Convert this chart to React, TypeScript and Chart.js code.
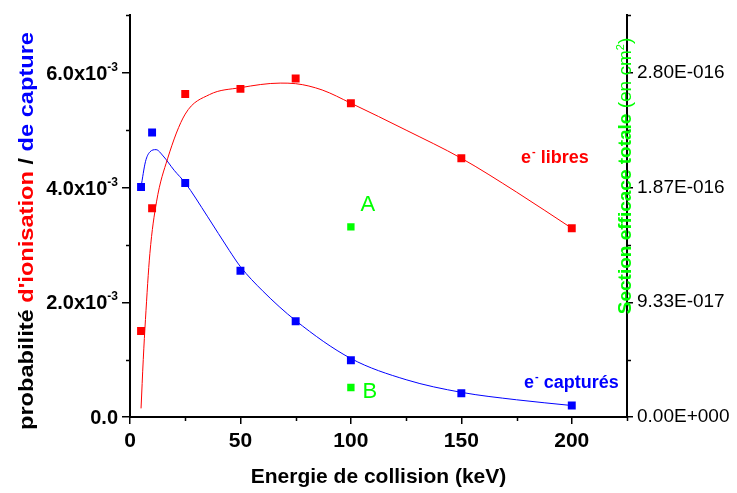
import React, { useEffect, useRef } from 'react';
import { Chart, registerables } from 'chart.js';

Chart.register(...registerables);

// ---- data ----
const energies = [5, 10, 25, 50, 75, 100, 150, 200];
const ionisation = [1.5e-3, 3.64e-3, 5.63e-3, 5.72e-3, 5.9e-3, 5.47e-3, 4.51e-3, 3.29e-3];
const capture = [4.01e-3, 4.96e-3, 4.08e-3, 2.55e-3, 1.67e-3, 0.99e-3, 0.415e-3, 0.2e-3];

// fitted curves
const ionFitX = [5, 6, 7, 9, 12, 17, 25, 36, 50, 68, 75, 87, 100, 125, 150, 175, 200];
const ionFitY = [0.15e-3, 1.0e-3, 1.7e-3, 2.85e-3, 3.75e-3, 4.5e-3, 5.28e-3, 5.62e-3, 5.74e-3, 5.82e-3, 5.81e-3, 5.7e-3, 5.47e-3, 5.0e-3, 4.51e-3, 3.92e-3, 3.29e-3];
const capFitX = [5, 7, 9, 11.8, 15, 20, 25, 35, 45, 50, 60, 75, 100, 125, 150, 175, 200];
const capFitY = [4.01e-3, 4.45e-3, 4.62e-3, 4.66e-3, 4.55e-3, 4.3e-3, 4.08e-3, 3.5e-3, 2.9e-3, 2.62e-3, 2.2e-3, 1.68e-3, 1.02e-3, 0.65e-3, 0.43e-3, 0.3e-3, 0.2e-3];

// total cross sections (right axis)
const sectionX = [100, 100];
const sectionY = [1.547e-16, 2.4e-17];
const sectionNames = ['A', 'B'];

// axes
const xTicks = [0, 50, 100, 150, 200];
const xMinor = [25, 75, 125, 175, 225];
const yTicks = [0, 2e-3, 4e-3, 6e-3];
const yTickText = ['0.0', '2.0x10', '4.0x10', '6.0x10'];
const yTickExp = ['', '-3', '-3', '-3'];
const yMinor = [1e-3, 3e-3, 5e-3, 7e-3];
const y2Ticks = [0, 9.3333e-17, 1.86667e-16, 2.8e-16];
const y2TickText = ['0.00E+000', '9.33E-017', '1.87E-016', '2.80E-016'];
const y2Minor = [4.66667e-17, 1.4e-16, 2.33333e-16, 3.26667e-16];

const FONT = 'Arial, "Liberation Sans", Helvetica, sans-serif';
const RED = '#ff0000';
const BLUE = '#0000ff';
const GREEN = '#00ff00';

const toXY = (xs: number[], ys: number[]) => xs.map((x, i) => ({ x, y: ys[i] }));

const decorPlugin = {
  id: 'decor',
  afterDraw(chart: any) {
    const { ctx, chartArea, scales } = chart;
    const sx = scales.x, sy = scales.y, sy2 = scales.y2;
    ctx.save();
    ctx.strokeStyle = '#000';
    ctx.lineWidth = 1.5;
    ctx.beginPath();
    xMinor.forEach((v) => {
      const p = Math.round(sx.getPixelForValue(v)) + 0.5;
      ctx.moveTo(p, chartArea.bottom);
      ctx.lineTo(p, chartArea.bottom + 4);
    });
    yMinor.forEach((v) => {
      const p = Math.round(sy.getPixelForValue(v)) + 0.5;
      ctx.moveTo(chartArea.left - 4, p);
      ctx.lineTo(chartArea.left, p);
    });
    y2Minor.forEach((v) => {
      const p = Math.round(sy2.getPixelForValue(v)) + 0.5;
      ctx.moveTo(chartArea.right, p);
      ctx.lineTo(chartArea.right + 4, p);
    });
    ctx.stroke();

    // left tick labels with superscript exponent
    ctx.fillStyle = '#000';
    ctx.textBaseline = 'alphabetic';
    yTicks.forEach((v, i) => {
      const py = sy.getPixelForValue(v);
      const right = chartArea.left - 12;
      ctx.font = `bold 12px ${FONT}`;
      const ew = yTickExp[i] ? ctx.measureText(yTickExp[i]).width : 0;
      ctx.font = `bold 20px ${FONT}`;
      ctx.textAlign = 'right';
      const base = py + 7;
      ctx.fillText(yTickText[i], right - ew, base);
      if (yTickExp[i]) {
        ctx.font = `bold 12px ${FONT}`;
        ctx.textAlign = 'left';
        ctx.fillText(yTickExp[i], right - ew, base - 9);
      }
    });

    // left axis title (multi-coloured)
    const leftParts: [string, string][] = [
      ['probabilité ', '#000'],
      ["d'ionisation", RED],
      [' / ', '#000'],
      ['de capture', BLUE],
    ];
    ctx.font = `bold 21px ${FONT}`;
    const total = leftParts.reduce((s, p) => s + ctx.measureText(p[0]).width, 0);
    ctx.save();
    ctx.translate(33, 231);
    ctx.rotate(-Math.PI / 2);
    ctx.scale(398 / total, 1);
    ctx.textAlign = 'left';
    let cx = -total / 2;
    leftParts.forEach(([t, c]) => {
      ctx.fillStyle = c;
      ctx.fillText(t, cx, 0);
      cx += ctx.measureText(t).width;
    });
    ctx.restore();

    // right axis title
    ctx.save();
    ctx.translate(chartArea.right + 4, 176);
    ctx.rotate(-Math.PI / 2);
    ctx.fillStyle = GREEN;
    ctx.textAlign = 'left';
    ctx.font = `bold 19px ${FONT}`;
    const t1 = 'Section efficace totale';
    const w1 = ctx.measureText(t1).width;
    ctx.font = `19px ${FONT}`;
    const t2 = ' (en cm';
    const w2 = ctx.measureText(t2).width;
    ctx.font = `11px ${FONT}`;
    const t3 = '2';
    const w3 = ctx.measureText(t3).width;
    ctx.font = `19px ${FONT}`;
    const t4 = ')';
    const w4 = ctx.measureText(t4).width;
    let rx = -(w1 + w2 + w3 + w4) / 2;
    ctx.font = `bold 19px ${FONT}`;
    ctx.fillText(t1, rx, 0); rx += w1;
    ctx.font = `19px ${FONT}`;
    ctx.fillText(t2, rx, 0); rx += w2;
    ctx.font = `11px ${FONT}`;
    ctx.fillText(t3, rx, -7); rx += w3;
    ctx.font = `19px ${FONT}`;
    ctx.fillText(t4, rx, 0);
    ctx.restore();

    // curve labels
    const electronLabel = (xv: number, yv: number, word: string, color: string) => {
      let px = sx.getPixelForValue(xv);
      const py = sy.getPixelForValue(yv);
      ctx.fillStyle = color;
      ctx.textAlign = 'left';
      ctx.font = `bold 18px ${FONT}`;
      ctx.fillText('e', px, py);
      px += ctx.measureText('e').width + 1;
      ctx.font = `bold 11px ${FONT}`;
      ctx.fillText('-', px, py - 8);
      px += ctx.measureText('-').width;
      ctx.font = `bold 18px ${FONT}`;
      ctx.fillText(' ' + word, px, py);
    };
    electronLabel(177, 4.42e-3, 'libres', RED);
    electronLabel(178.4, 0.5e-3, 'capturés', BLUE);

    // A / B labels
    ctx.fillStyle = GREEN;
    ctx.font = `22px ${FONT}`;
    ctx.textAlign = 'left';
    const abPos = [
      [104.4, 1.674e-16],
      [105.3, 1.55e-17],
    ];
    sectionNames.forEach((n, i) => {
      ctx.fillText(n, sx.getPixelForValue(abPos[i][0]), sy2.getPixelForValue(abPos[i][1]));
    });
    ctx.restore();
  },
};

export default function App() {
  const ref = useRef<HTMLCanvasElement | null>(null);
  useEffect(() => {
    if (!ref.current) return;
    const chart = new Chart(ref.current, {
      type: 'scatter',
      data: {
        datasets: [
          {
            data: toXY(ionFitX, ionFitY),
            showLine: true,
            borderColor: RED,
            borderWidth: 1,
            pointRadius: 0,
            cubicInterpolationMode: 'monotone',
            yAxisID: 'y',
          },
          {
            data: toXY(capFitX, capFitY),
            showLine: true,
            borderColor: BLUE,
            borderWidth: 1,
            pointRadius: 0,
            cubicInterpolationMode: 'monotone',
            yAxisID: 'y',
          },
          {
            data: toXY(energies, ionisation),
            pointStyle: 'rect',
            pointRadius: 5.6,
            backgroundColor: RED,
            borderWidth: 0,
            yAxisID: 'y',
          },
          {
            data: toXY(energies, capture),
            pointStyle: 'rect',
            pointRadius: 5.6,
            backgroundColor: BLUE,
            borderWidth: 0,
            yAxisID: 'y',
          },
          {
            data: toXY(sectionX, sectionY),
            pointStyle: 'rect',
            pointRadius: 5.2,
            backgroundColor: GREEN,
            borderWidth: 0,
            yAxisID: 'y2',
          },
        ],
      } as any,
      options: {
        animation: false,
        responsive: false,
        events: [],
        layout: { padding: { left: 0, right: 0, top: 12, bottom: 0 } },
        plugins: { legend: { display: false }, tooltip: { enabled: false } },
        scales: {
          x: {
            type: 'linear',
            position: 'bottom',
            min: 0,
            max: 225,
            afterBuildTicks: (s: any) => {
              s.ticks = xTicks.map((value) => ({ value }));
            },
            afterFit: (s: any) => {
              s.height = 76;
            },
            grid: {
              drawOnChartArea: false,
              drawTicks: true,
              tickLength: 7,
              color: '#000',
              tickColor: '#000',
              lineWidth: 1.5,
            },
            border: { display: true, color: '#000', width: 2 },
            ticks: {
              autoSkip: false,
              maxRotation: 0,
              color: '#000',
              padding: 5,
              font: { family: FONT, size: 21, weight: 'bold' },
            },
            title: {
              display: true,
              text: 'Energie de collision (keV)',
              color: '#000',
              font: { family: FONT, size: 21, weight: 'bold' },
              padding: { top: 0, bottom: 3 },
            },
          },
          y: {
            type: 'linear',
            position: 'left',
            min: 0,
            max: 7e-3,
            afterBuildTicks: (s: any) => {
              s.ticks = yTicks.map((value) => ({ value }));
            },
            afterFit: (s: any) => {
              s.width = 130;
            },
            grid: {
              drawOnChartArea: false,
              drawTicks: true,
              tickLength: 8,
              color: '#000',
              tickColor: '#000',
              lineWidth: 1.5,
            },
            border: { display: true, color: '#000', width: 2 },
            ticks: { display: false },
          },
          y2: {
            type: 'linear',
            position: 'right',
            min: 0,
            max: 3.26667e-16,
            afterBuildTicks: (s: any) => {
              s.ticks = y2Ticks.map((value) => ({ value }));
            },
            afterFit: (s: any) => {
              s.width = 110;
            },
            grid: {
              drawOnChartArea: false,
              drawTicks: true,
              tickLength: 6,
              color: '#000',
              tickColor: '#000',
              lineWidth: 1.5,
            },
            border: { display: true, color: '#000', width: 2 },
            ticks: {
              color: '#000',
              padding: 4,
              font: { family: FONT, size: 19 },
              callback: (_v: any, i: number) => y2TickText[i],
            },
          },
        },
      } as any,
      plugins: [decorPlugin],
    });
    return () => chart.destroy();
  }, []);

  return (
    <div style={{ position: 'fixed', left: 0, top: 0, width: 737, height: 493, background: '#fff' }}>
      <canvas ref={ref} width={737} height={493} style={{ width: 737, height: 493, display: 'block' }} />
    </div>
  );
}
